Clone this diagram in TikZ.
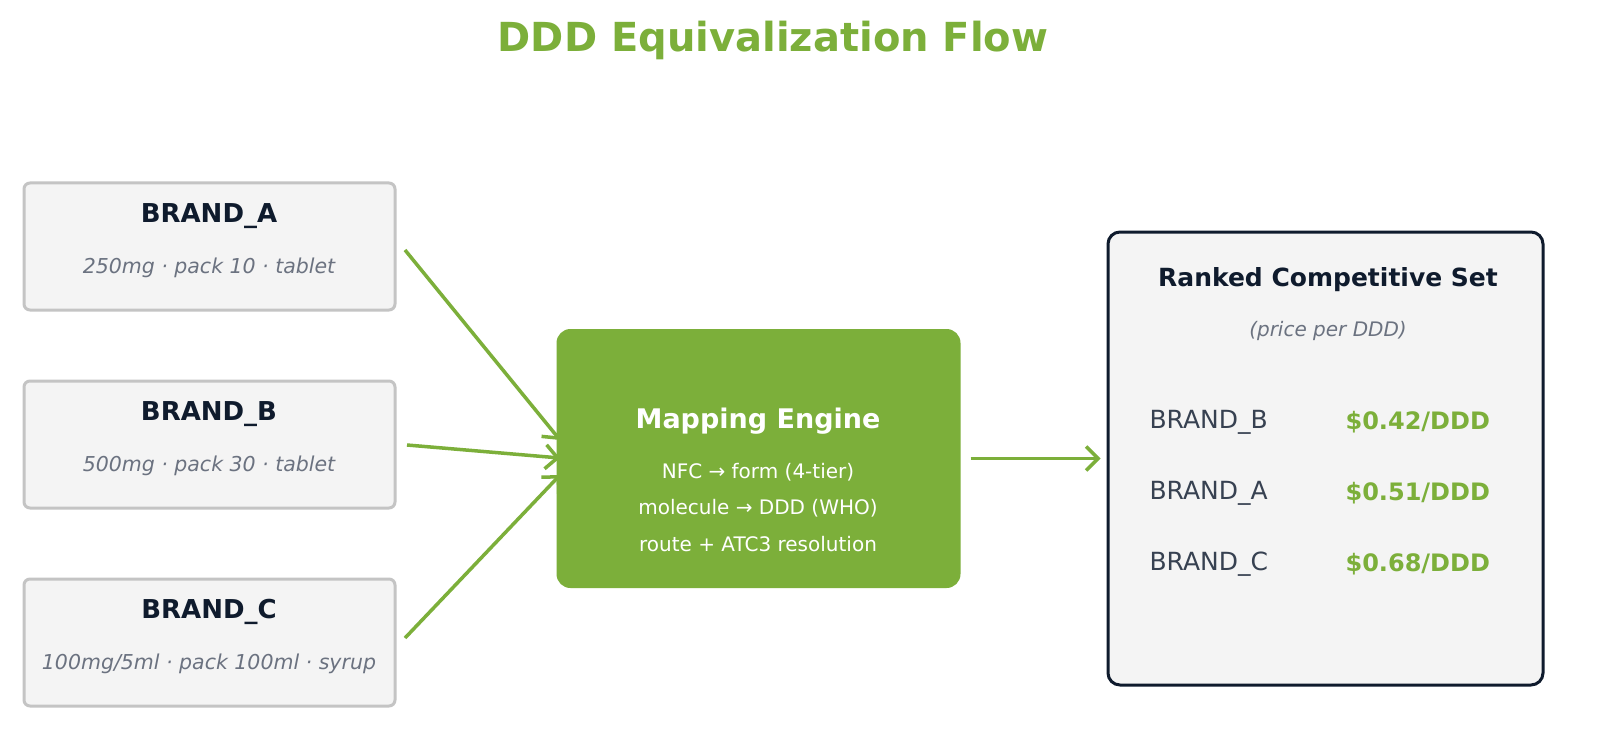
\documentclass[tikz,border=0pt]{standalone}
\usepackage{fontspec}
\setmainfont{DejaVu Sans}
\usetikzlibrary{arrows.meta,positioning}
\definecolor{leaf}{HTML}{7CAF3A}
\definecolor{ink}{HTML}{0F1B2D}
\definecolor{slate}{HTML}{6B7280}
\definecolor{paper}{HTML}{F4F4F4}
\definecolor{rim}{HTML}{C4C4C4}
\definecolor{rowink}{HTML}{374151}
\tikzset{
  brand/.style={draw=rim,line width=3pt,fill=paper,rounded corners=6pt,minimum width=371pt,minimum height=127pt},
  flow/.style={draw=leaf,line width=3.5pt,-{Straight Barb[length=12pt,width=24pt]}}
}
\begin{document}
\begin{tikzpicture}[x=1pt,y=-1pt]
\path[use as bounding box,fill=white] (0,0) rectangle (1600,746);
\clip (0,0) rectangle (1600,746);
\node[font=\bfseries\fontsize{40}{40}\selectfont,text=leaf] (title) at (773,40) {DDD Equivalization Flow};

\node[brand] (ba) at (209.5,246.5) {};
\node[brand] (bb) at (209.5,444.5) {};
\node[brand] (bc) at (209.5,642.5) {};
\node[font=\bfseries\fontsize{26}{26}\selectfont,text=ink] at (209,216) {BRAND\_A};
\node[font=\itshape\fontsize{20.5}{20.5}\selectfont,text=slate] at (209,268) {250mg · pack 10 · tablet};
\node[font=\bfseries\fontsize{26}{26}\selectfont,text=ink] at (209,414) {BRAND\_B};
\node[font=\itshape\fontsize{20.5}{20.5}\selectfont,text=slate] at (209,466) {500mg · pack 30 · tablet};
\node[font=\bfseries\fontsize{26}{26}\selectfont,text=ink] at (209,612) {BRAND\_C};
\node[font=\itshape\fontsize{20.5}{20.5}\selectfont,text=slate] at (209,664) {100mg/5ml · pack 100ml · syrup};

\node[fill=leaf,rounded corners=14pt,minimum width=404pt,minimum height=259pt] (engine) at (758.5,458.5) {};
\node[font=\bfseries\fontsize{27}{27}\selectfont,text=white] at (758,421) {Mapping Engine};
\node[font=\fontsize{20}{20}\selectfont,text=white] at (758,472) {NFC → form (4-tier)};
\node[font=\fontsize{20}{20}\selectfont,text=white] at (758,508) {molecule → DDD (WHO)};
\node[font=\fontsize{20}{20}\selectfont,text=white] at (758,544) {route + ATC3 resolution};

\node[draw=ink,line width=3pt,fill=paper,rounded corners=12pt,minimum width=435pt,minimum height=453pt] (set) at (1325.5,458.5) {};
\node[font=\bfseries\fontsize{25}{25}\selectfont,text=ink] at (1328,280) {Ranked Competitive Set};
\node[font=\itshape\fontsize{20}{20}\selectfont,text=slate] at (1328,331) {(price per DDD)};
\foreach \b/\p/\y in {B/0.42/422,A/0.51/493,C/0.68/564}{
  \node[anchor=west,font=\fontsize{25}{25}\selectfont,text=rowink] at (1146,\y) {BRAND\_\b};
  \node[anchor=west,font=\bfseries\fontsize{24}{24}\selectfont,text=leaf] at (1342,\y) {\$\p/DDD};
}

\coordinate (oa) at (405,250);
\coordinate (ob) at (407,445);
\coordinate (oc) at (405,638);
\coordinate (ia) at (560,440);
\coordinate (ib) at (560,458);
\coordinate (ic) at (560,475);
\draw[flow] (oa) -- (ia);
\draw[flow] (ob) -- (ib);
\draw[flow] (oc) -- (ic);
\draw[flow] ([xshift=10pt]engine.east) -- ([xshift=-6pt]set.west);
\end{tikzpicture}
\end{document}
